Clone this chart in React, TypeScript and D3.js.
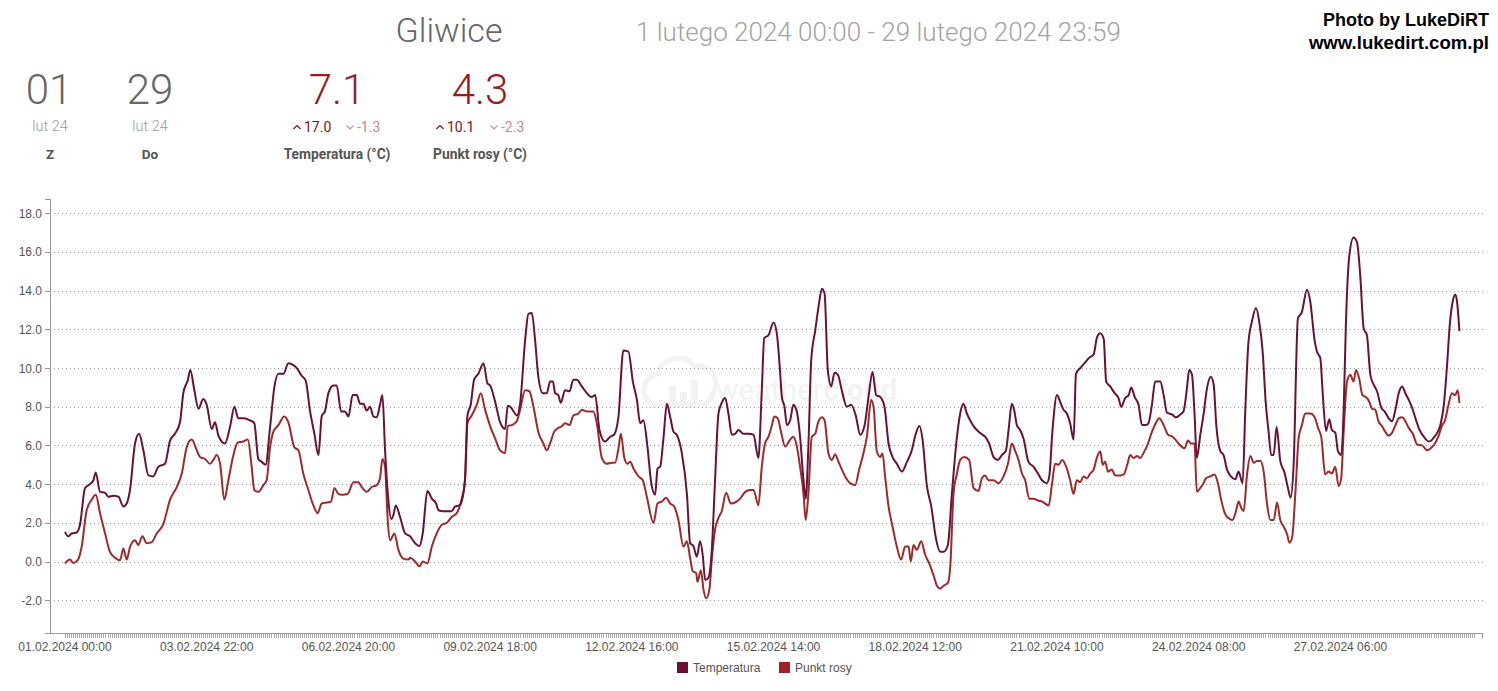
import React from "react";
import * as d3 from "d3";

// ---- Data (hours since 01.02.2024 00:00, °C) ----
const temperatura: [number, number][] = [
  [0,1.53],[1.6,1.3],[3.3,1.45],[5.8,1.5],[7.4,1.9],[9.9,3.8],[12.4,4.0],[14,4.2],[15.2,4.6],[17.3,3.6],[19.8,3.55],[21.4,3.35],[23.9,3.4],[26.4,3.35],[28.8,2.85],[30.5,3.0],[32.1,3.7],[34.6,6.1],[36.6,6.6],[38.7,5.75],[41.2,4.45],[43.6,4.4],[46.1,4.9],[49.4,5.05],[51.9,6.25],[54.3,6.6],[56.8,7.2],[58.5,8.75],[60.6,9.35],[61.9,9.9],[63.9,8.85],[65.9,7.9],[68.3,8.4],[70,8.1],[72.5,6.85],[74.1,7.2],[75.8,6.5],[79,6.1],[81.5,6.95],[83.7,8.0],[85.6,7.4],[88.1,7.4],[91.4,7.3],[93.5,7.15],[95.5,5.3],[97.2,5.15],[99.1,5.0],[101.3,6.95],[103.4,9.0],[105.4,9.7],[107.9,9.7],[110.3,10.25],[112.8,10.15],[114.5,10.0],[116.9,9.6],[118.9,9.35],[121,7.8],[123.2,6.6],[125.2,5.5],[126.8,7.5],[128.5,7.8],[130.1,8.7],[132.6,9.1],[134.2,9.1],[136.4,7.75],[138.3,7.75],[140,7.5],[142.1,8.6],[144.1,8.6],[145.8,8.15],[147.4,8.15],[149,7.8],[150.7,8.0],[152.3,7.5],[154,7.45],[155.6,8.1],[156.8,8.6],[158.1,5.75],[159.7,3.2],[161.1,2.2],[162.2,2.4],[163.4,2.9],[165.5,2.3],[168,1.45],[170.5,1.3],[172.9,0.95],[175.1,0.8],[176.7,1.45],[179,3.65],[181.2,3.25],[183.3,3.0],[184.5,2.65],[186.9,2.6],[191,2.6],[192.7,2.85],[194.8,2.9],[196.5,3.35],[197.6,4.3],[198.8,7.55],[200.4,8.1],[202.1,9.4],[204.2,9.7],[206.7,10.25],[208.7,9.2],[210,9.1],[212.5,8.25],[214.9,7.2],[217.4,6.85],[218.7,8.05],[220.4,7.95],[223.2,7.55],[224.8,8.15],[227.3,11.45],[228.9,12.8],[230.6,12.85],[232.2,11.45],[233.8,9.55],[236,8.7],[238,8.7],[239.6,9.3],[241,9.3],[242.1,8.7],[243.7,8.6],[244.9,8.2],[247,8.85],[249.2,8.8],[251.1,9.4],[252.8,9.4],[255.3,9.05],[257.8,8.7],[260.2,8.5],[261.9,8.6],[264,6.8],[266.8,6.2],[269.3,6.45],[271.2,6.55],[273.4,7.5],[275.8,10.9],[278.3,10.85],[280.5,9.3],[282.5,8.35],[284.1,7.15],[285.7,7.3],[287.7,5.95],[289.4,4.2],[291.5,3.45],[292.7,4.8],[294,4.9],[295.6,6.35],[297.3,8.15],[298.9,7.5],[300.6,6.7],[302.2,6.55],[304.7,5.6],[307.2,3.5],[308.8,0.95],[310.4,0.8],[312.1,0.25],[313.7,1.05],[315.1,0.25],[316.2,-0.95],[317.8,-0.85],[319.5,0.6],[321.1,4.2],[322.8,7.65],[324.4,8.2],[326.1,8.45],[327.7,7.65],[329.4,6.55],[331,6.6],[332.7,6.8],[335.1,6.6],[337.6,6.6],[340.1,6.55],[342.5,5.35],[344.2,8.85],[345.4,11.55],[347.5,11.7],[350,12.35],[351.6,11.8],[353.3,9.7],[354.1,8.5],[355.4,8.0],[356.6,7.05],[358.2,7.3],[359.8,8.1],[361.5,7.75],[363.1,6.45],[364.8,4.2],[365.9,3.25],[367.2,5.95],[368.6,10.4],[370.6,11.95],[372.2,13.15],[373.9,14.1],[375.2,13.85],[376.8,9.9],[378.5,9.05],[380.1,9.75],[381.8,9.65],[383.7,8.85],[386.2,8.0],[388.3,8.1],[390.6,7.55],[392.8,6.55],[394.9,7.0],[396.9,8.5],[398.9,9.8],[400.7,8.6],[402.7,8.5],[404.8,8.0],[406.8,6.1],[408.8,5.4],[410.9,5.05],[413.4,4.65],[415.9,5.15],[418.3,5.75],[420,6.5],[422.1,7.0],[423.6,6.3],[425.7,3.95],[427.9,2.85],[430.2,1.2],[432.3,0.5],[434,0.5],[436.1,0.85],[438.1,3.5],[440.6,6.45],[442.2,7.65],[443.8,8.15],[445.5,7.65],[447.1,7.3],[448.8,7.0],[450.4,6.8],[452.6,6.6],[454.5,6.45],[456.5,6.1],[458.7,5.4],[460.8,5.25],[462.8,5.5],[464.8,5.75],[466.1,6.8],[467.7,8.15],[469,7.75],[470.2,7.05],[471.8,6.8],[473.5,6.35],[475.9,5.15],[478.4,4.9],[480.6,4.55],[482.6,4.2],[485,4.05],[486.2,4.4],[487.8,6.8],[490,8.6],[491.6,8.25],[493.2,7.85],[494.9,7.65],[496.5,7.15],[498.2,6.3],[499.4,9.7],[501.5,10.0],[503.6,10.25],[505.6,10.5],[508.1,10.7],[509.8,11.6],[511.4,11.8],[513.1,11.5],[514.3,9.3],[516.3,9.05],[518.5,8.7],[520.4,8.45],[521.7,8.0],[523.7,8.45],[525.4,8.6],[526.7,9.0],[528.4,8.5],[530.3,8.1],[532,7.05],[534,7.05],[535.2,7.15],[536.9,8.1],[538.5,9.3],[541,9.3],[542.7,8.6],[544.3,7.7],[546.8,7.6],[548.8,7.45],[550.9,7.6],[552.5,7.75],[554.2,8.95],[555.3,9.9],[556.7,9.65],[557.9,7.75],[559.1,5.35],[560.8,6.55],[562.4,7.6],[564.1,8.95],[566,9.55],[567.4,9.15],[568.7,7.05],[570.7,5.7],[572.3,5.5],[574,4.75],[575.9,4.4],[578.1,4.25],[579.7,4.65],[581.7,4.05],[583,7.75],[584.6,11.35],[586.3,12.4],[588.3,13.1],[589.9,12.4],[591.6,10.85],[593.2,8.1],[594.5,6.75],[595.8,5.5],[597,5.5],[598.5,6.95],[600.3,5.2],[602.4,4.6],[604.1,3.8],[605.4,3.3],[606.9,5.0],[609,12.55],[611,12.9],[613.5,14.05],[615.1,13.45],[617.3,11.4],[618.4,10.85],[620.1,10.5],[621.2,8.8],[622.9,6.75],[624.5,7.35],[625.8,6.8],[627.5,6.65],[628.8,5.7],[630.4,5.5],[631.6,7.75],[632.7,12.2],[634.4,15.8],[636.5,16.75],[638.2,16.5],[639.8,14.8],[641.5,12.05],[643.1,11.7],[644.8,9.65],[646.4,9.15],[648.1,8.8],[650.2,7.95],[651.9,7.75],[653.9,7.4],[655.5,7.25],[657.2,7.85],[658.8,8.7],[660.5,9.05],[662.1,8.7],[663.8,8.35],[665.4,7.95],[667.1,7.4],[668.7,6.9],[671.2,6.45],[673.7,6.2],[676.1,6.4],[677.8,6.65],[679.4,7.05],[681.1,8.1],[682.7,10.15],[684,12.2],[685.5,13.45],[686.8,13.8],[687.6,13.45],[688.8,11.9]
];

const punktRosy: [number, number][] = [
  [0,-0.1],[2.5,0.1],[4.1,-0.07],[6.3,0.07],[8.2,0.75],[10.7,2.65],[13.2,3.2],[15.2,3.45],[17.3,2.5],[19.8,1.45],[22.2,0.5],[24.7,0.2],[27.2,0.07],[28.8,0.67],[30.5,0.1],[32.1,0.75],[34.6,1.1],[36.2,0.85],[38.2,1.3],[40.4,0.95],[42.8,1.0],[45.3,1.45],[48.6,1.95],[51.9,3.2],[55.2,3.85],[57.7,4.55],[60.1,5.9],[62.6,6.3],[65.1,5.75],[66.7,5.4],[69.2,5.3],[71.6,5.05],[73.3,5.25],[74.9,5.5],[76.6,5.05],[78.7,3.2],[80.7,4.2],[83.2,5.5],[85.3,6.15],[88.1,6.2],[90.3,6.3],[92.2,4.9],[93.5,3.7],[95.5,3.6],[98,3.95],[99.6,4.2],[101.3,5.9],[102.9,6.7],[105.4,7.05],[108.3,7.5],[110.3,7.2],[113.3,5.9],[115.3,5.75],[117.7,4.55],[120.2,3.7],[122.7,2.9],[124.8,2.5],[126.8,3.0],[129.3,3.05],[131.4,3.1],[133.1,3.8],[135,3.5],[137,3.45],[139.7,3.5],[142.5,4.1],[144.9,4.1],[146.6,3.85],[149,3.6],[151.5,3.85],[154,3.95],[155.6,4.3],[156.8,5.3],[158.1,4.9],[159.4,2.15],[160.6,1.1],[162.7,1.45],[164.7,0.6],[167.1,0.15],[169.6,0.1],[170.5,0.2],[172.9,0.0],[175.1,-0.25],[176.7,0.0],[179,-0.1],[181.2,0.77],[183.6,1.45],[186.1,1.9],[188.6,2.0],[191,2.3],[193.5,2.5],[196,3.25],[197.6,4.2],[198.8,7.15],[200.9,7.55],[203.4,8.1],[205.4,8.7],[207.5,7.85],[210,7.0],[212.5,6.35],[214.9,5.75],[217.4,5.6],[218.7,7.0],[220.7,7.05],[223.2,7.25],[224.8,7.85],[227.3,8.85],[229.4,8.8],[231.4,8.0],[233.8,6.7],[236.3,6.1],[238,5.75],[239.6,6.1],[241.6,6.7],[243.7,6.9],[245.4,7.0],[247,7.15],[249.2,7.05],[251.1,7.55],[253.6,7.65],[255.3,7.85],[257.8,7.75],[261,7.75],[262.7,7.15],[265.2,5.35],[267.6,5.05],[270.1,5.1],[271.7,5.1],[273.4,5.85],[274.6,6.6],[276.2,5.4],[277.8,5.05],[279.1,5.15],[281.1,4.75],[283.3,4.4],[285.4,4.2],[287.4,3.35],[290.7,2.0],[292.7,3.0],[294.8,3.1],[296.9,3.3],[298.9,3.0],[300.9,2.85],[303,2.15],[305.5,0.77],[307.2,1.05],[308.8,0.17],[310.1,-0.5],[311.8,-0.6],[312.4,-1.05],[314.1,-0.45],[315.4,-1.45],[316.7,-1.9],[318.3,-1.45],[319.5,0.1],[321.1,1.65],[322.8,2.25],[324.4,2.6],[326.6,3.55],[328.9,3.0],[331,3.05],[333.5,3.25],[336,3.6],[338.4,3.7],[340.1,3.7],[342.5,2.9],[344.2,4.9],[345.8,6.1],[347.5,6.45],[349.1,7.0],[350.4,7.5],[352.1,7.4],[353.8,6.65],[355.7,5.95],[358.2,6.3],[359.8,6.45],[361.5,5.95],[363.1,4.9],[364.8,3.5],[365.9,2.15],[367.2,3.5],[368.9,6.45],[370.6,6.6],[371.9,7.15],[373.9,7.45],[375.2,7.3],[377.1,5.6],[378.8,5.25],[380.4,5.55],[382.1,5.15],[385.4,4.4],[387.8,4.05],[390.3,3.95],[392.3,4.75],[394.4,5.6],[396.1,6.45],[398.2,8.35],[399.4,8.0],[401,5.7],[402.7,5.4],[403.8,5.6],[405.1,4.4],[406.8,2.85],[408.8,1.8],[410.9,0.77],[413,0.1],[415,0.77],[416.7,0.77],[417.8,0.0],[419.1,0.85],[420.8,0.6],[422.9,1.05],[424.9,0.35],[426.9,-0.1],[429,-0.7],[430.7,-1.25],[432.3,-1.4],[434,-1.25],[436.1,-1.1],[437.3,-0.25],[438.9,3.5],[440.6,4.55],[442.2,5.25],[444.3,5.4],[446.6,5.25],[448.8,3.8],[451.2,3.65],[452.9,4.3],[454.5,4.45],[456.2,4.2],[458.7,4.2],[461.1,4.05],[463.6,4.4],[465.8,5.05],[467.7,6.1],[469.4,5.7],[471,5.25],[472.7,4.55],[474.3,4.2],[476.3,3.25],[478.4,3.25],[480.6,3.15],[482.6,3.1],[485.9,2.9],[487.6,4.05],[489.1,5.05],[490.8,5.0],[492.5,5.25],[494.9,4.8],[496.5,4.2],[498.2,3.5],[499.8,4.2],[501.5,4.1],[503.1,4.4],[504.8,4.3],[506.4,4.55],[508.1,4.75],[509.8,5.4],[511.4,5.7],[512.6,5.0],[513.8,5.15],[515.2,4.65],[517.1,4.75],[518.8,4.45],[521.3,4.45],[523,4.5],[524.7,5.0],[526.2,5.5],[527.9,5.35],[529.6,5.45],[531.1,5.35],[532.7,5.6],[534.4,5.95],[536.9,6.7],[538.8,7.15],[540.5,7.4],[542.7,7.05],[544.9,6.55],[547.1,6.45],[549.3,6.2],[551.4,5.95],[553,5.85],[554.7,6.25],[556.3,6.1],[557.9,6.1],[559.1,3.6],[560.8,3.8],[562.4,4.05],[563.6,4.3],[565.7,4.4],[567.8,4.5],[569.5,4.05],[571.1,3.2],[573.1,2.45],[574.7,2.25],[576.7,2.15],[578.4,2.6],[579.7,3.1],[581.1,2.75],[582.2,2.6],[583.9,4.5],[585.5,5.45],[587.2,5.1],[588.8,5.2],[590.5,5.2],[592.1,4.65],[593.8,2.95],[595.4,2.15],[597.1,2.15],[598.7,3.05],[600.3,2.15],[602,1.8],[603.7,1.4],[604.8,0.97],[606.1,1.2],[607.8,3.6],[609.4,6.4],[611,7.05],[612.6,7.65],[615.1,7.65],[617.3,7.45],[619,6.9],[620.6,6.4],[622.5,4.5],[624.2,4.65],[625.8,4.55],[627.5,4.9],[629.1,3.9],[630.4,4.3],[631.6,6.7],[633.3,9.3],[634.9,9.65],[636.5,9.3],[637.7,9.9],[639.3,9.45],[640.9,8.6],[642.6,8.5],[644.3,8.25],[645.6,7.9],[647.2,7.85],[648.8,7.25],[650.5,7.0],[652.2,6.7],[653.8,6.5],[655.5,6.65],[657.2,7.05],[658.8,7.4],[660.5,7.45],[662.1,7.25],[663.8,6.9],[665.8,6.6],[667.9,6.05],[670.4,6.0],[672.9,5.75],[674.6,5.85],[676.7,6.1],[678.4,6.45],[680.1,7.0],[681.7,7.3],[683.4,8.1],[685.1,8.7],[686.7,8.6],[687.9,8.85],[688.8,8.2]
];

const xTickHours = [0, 70, 140, 210, 280, 350, 420, 490, 560, 630];
const xTickLabels = [
  "01.02.2024 00:00", "03.02.2024 22:00", "06.02.2024 20:00", "09.02.2024 18:00",
  "12.02.2024 16:00", "15.02.2024 14:00", "18.02.2024 12:00", "21.02.2024 10:00",
  "24.02.2024 08:00", "27.02.2024 06:00",
];
const yTicks = [-2, 0, 2, 4, 6, 8, 10, 12, 14, 16, 18];

const seriesNames = ["Temperatura", "Punkt rosy"];
const seriesColors = ["#6a1139", "#9e2a2a"];
const legendColors = ["#6b0f35", "#a31f24"];

const statValues = ["7.1", "4.3"];
const statMax = ["17.0", "10.1"];
const statMin = ["-1.3", "-2.3"];
const statLabels = ["Temperatura (°C)", "Punkt rosy (°C)"];

const W = 1498;
const H = 691;

export default function App() {
  const x = d3.scaleLinear().domain([0, 696]).range([65, 1474]);
  const y = d3.scaleLinear().domain([-3.72, 18.71]).range([633.5, 199.5]);

  const line = d3
    .line<[number, number]>()
    .x((d) => x(d[0]))
    .y((d) => y(d[1]))
    .curve(d3.curveMonotoneX);

  const minorTicks = d3.range(0, 697, 1).map((h) => `M${Math.round(x(h)) + 0.5},634 V638`).join("");

  const gridLeft = 50;
  const gridRight = 1483;
  const axisY = 633.5;

  const hdr = "Roboto, 'Noto Sans', sans-serif";
  const ax = "'Liberation Sans', Arial, sans-serif";

  const chevUp = (cx: number, cy: number) => `M${cx - 3.5},${cy + 2} L${cx},${cy - 1.5} L${cx + 3.5},${cy + 2}`;
  const chevDown = (cx: number, cy: number) => `M${cx - 3.5},${cy - 1.5} L${cx},${cy + 2} L${cx + 3.5},${cy - 1.5}`;

  const statCx = [337, 480];
  const upX = [297, 440];
  const downX = [350, 494];

  return (
    <svg width={W} height={H} style={{ position: "absolute", left: 0, top: 0, background: "#fff" }}>
      <rect width={W} height={H} fill="#fff" />

      {/* Header */}
      <text x={449} y={42} textAnchor="middle" fontFamily={hdr} fontWeight={300} fontSize={34} fill="#666">Gliwice</text>
      <text x={878.5} y={41} textAnchor="middle" fontFamily={hdr} fontWeight={300} fontSize={26} fill="#a3a3a3">1 lutego 2024 00:00 - 29 lutego 2024 23:59</text>

      <text x={1489} y={26} textAnchor="end" fontFamily={ax} fontWeight="bold" fontSize={18} fill="#000">Photo by LukeDiRT</text>
      <text x={1489} y={49} textAnchor="end" fontFamily={ax} fontWeight="bold" fontSize={18.6} fill="#000">www.lukedirt.com.pl</text>

      {/* From / to */}
      <text x={49} y={104} textAnchor="middle" fontFamily={hdr} fontWeight={300} fontSize={42} fill="#666">01</text>
      <text x={150} y={104} textAnchor="middle" fontFamily={hdr} fontWeight={300} fontSize={42} fill="#666">29</text>
      <text x={50} y={131} textAnchor="middle" fontFamily={hdr} fontWeight={300} fontSize={14.5} fill="#999">lut 24</text>
      <text x={150} y={131} textAnchor="middle" fontFamily={hdr} fontWeight={300} fontSize={14.5} fill="#999">lut 24</text>
      <text x={50} y={159} textAnchor="middle" fontFamily={hdr} fontWeight="bold" fontSize={13.5} fill="#555">Z</text>
      <text x={150} y={159} textAnchor="middle" fontFamily={hdr} fontWeight="bold" fontSize={13.5} fill="#555">Do</text>

      {/* Stats */}
      {statValues.map((v, i) => (
        <g key={"st" + i}>
          <text x={statCx[i]} y={104} textAnchor="middle" fontFamily={hdr} fontWeight={300} fontSize={42} fill="#9a1b1f">{v}</text>
          <path d={chevUp(upX[i], 127)} fill="none" stroke="#7a1424" strokeWidth={1.2} />
          <text x={upX[i] + 7} y={131.5} fontFamily={hdr} fontSize={14} fill="#7a1424">{statMax[i]}</text>
          <path d={chevDown(downX[i], 127)} fill="none" stroke="#d58a92" strokeWidth={1.2} />
          <text x={downX[i] + 7} y={131.5} fontFamily={hdr} fontSize={14} fill="#d0868e">{statMin[i]}</text>
          <text x={statCx[i]} y={159} textAnchor="middle" fontFamily={hdr} fontWeight="bold" fontSize={13.8} fill="#555">{statLabels[i]}</text>
        </g>
      ))}

      {/* Watermark */}
      <g opacity={0.06}>
        <path d="M660,405 C640,405 638,378 658,374 C660,358 684,352 694,366 C710,362 722,380 712,396 C710,402 704,405 700,405 Z" fill="none" stroke="#333" strokeWidth={5} />
        <rect x={669} y={386} width={7} height={19} fill="#333" />
        <rect x={680} y={392} width={7} height={13} fill="#333" />
        <rect x={691} y={380} width={7} height={25} fill="#333" />
        <text x={716} y={400} fontFamily={hdr} fontSize={30} fill="#333">weather<tspan fontWeight="bold">cloud</tspan></text>
      </g>

      {/* Grid */}
      {yTicks.map((t) => (
        <line key={"g" + t} x1={gridLeft} x2={gridRight} y1={Math.round(y(t)) + 0.5} y2={Math.round(y(t)) + 0.5} stroke="#9a9a9a" strokeDasharray="1,3" />
      ))}

      {/* Y axis */}
      <line x1={50.5} x2={50.5} y1={199} y2={634} stroke="#999" />
      {yTicks.map((t) => (
        <g key={"yt" + t}>
          <line x1={45} x2={50} y1={Math.round(y(t)) + 0.5} y2={Math.round(y(t)) + 0.5} stroke="#999" />
          <text x={42} y={y(t) + 4.5} textAnchor="end" fontFamily={ax} fontSize={12} fill="#555">{t.toFixed(1)}</text>
        </g>
      ))}
      <line x1={45} x2={50} y1={199.5} y2={199.5} stroke="#999" />

      {/* X axis */}
      <line x1={45} x2={gridRight} y1={axisY} y2={axisY} stroke="#999" />
      <path d={minorTicks} stroke="#aaa" strokeWidth={1} />
      <line x1={gridRight - 0.5} x2={gridRight - 0.5} y1={axisY} y2={axisY + 5} stroke="#999" />
      {xTickHours.map((h, i) => (
        <text key={"xt" + h} x={x(h)} y={651} textAnchor="middle" fontFamily={ax} fontSize={12} fill="#555">{xTickLabels[i]}</text>
      ))}

      {/* Lines */}
      <path d={line(punktRosy) || ""} fill="none" stroke={seriesColors[1]} strokeWidth={2} strokeLinejoin="round" />
      <path d={line(temperatura) || ""} fill="none" stroke={seriesColors[0]} strokeWidth={2} strokeLinejoin="round" />

      {/* Legend */}
      {seriesNames.map((n, i) => {
        const lx = [677, 779][i];
        return (
          <g key={"lg" + i}>
            <rect x={lx} y={662} width={11} height={11} fill={legendColors[i]} />
            <text x={lx + 16} y={672} fontFamily={ax} fontSize={12} fill="#555">{n}</text>
          </g>
        );
      })}
    </svg>
  );
}
